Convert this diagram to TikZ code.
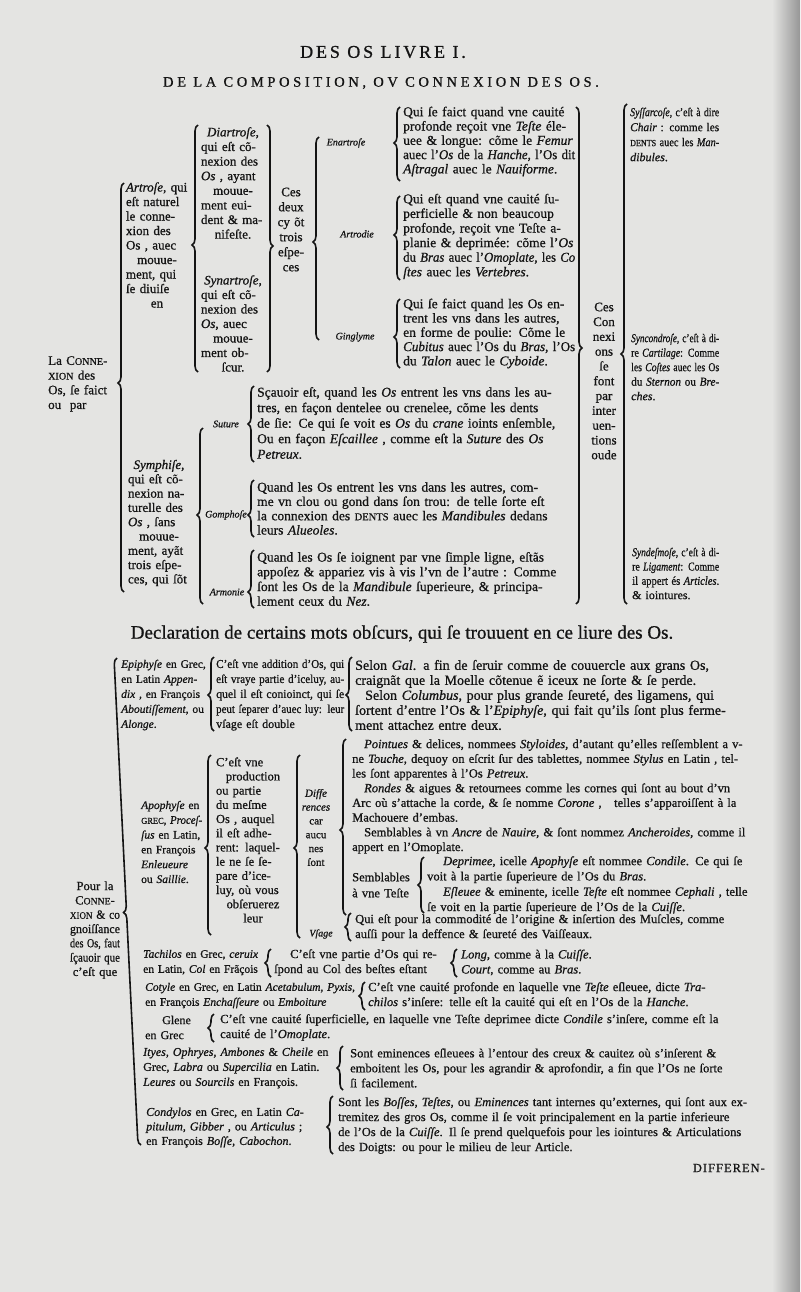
\documentclass[tikz,border=0pt]{standalone}
\usepackage{fontspec}
\setmainfont{Liberation Serif}[FakeBold=0.8, ItalicFeatures={FakeBold=0.8}]
\usepackage{graphicx}
\usetikzlibrary{decorations.pathreplacing,positioning}
\definecolor{Paper}{RGB}{228,228,226}
\definecolor{Ink}{RGB}{20,20,20}
\definecolor{Shadow}{RGB}{150,150,150}

% one line of a block: stretched to the width, or squeezed if too long
\newsavebox{\lnbox}
\newcommand{\jl}[1]{\sbox{\lnbox}{#1}\ifdim\wd\lnbox>\linewidth\resizebox{\linewidth}{\height}{\usebox{\lnbox}}\else\makebox[\linewidth][s]{#1}\fi}
\newcommand{\fl}[1]{\sbox{\lnbox}{#1}\ifdim\wd\lnbox>\linewidth\resizebox{\linewidth}{\height}{\usebox{\lnbox}}\else\usebox{\lnbox}\fi}
\newcommand{\minicap}[1]{\scalebox{0.78}{#1}}

% braces: x of the stem, top, bottom, cusp
\newcommand{\obr}[4]{%
  \pgfmathsetmacro{\brasp}{(#3-#4)/(#3-#2)}
  \draw[brc, decoration={brace, amplitude=6pt, aspect=\brasp}] ({#1+3},#3) -- ({#1+3},#2);}
\newcommand{\cbr}[4]{%
  \pgfmathsetmacro{\brasp}{(#4-#2)/(#3-#2)}
  \draw[brc, decoration={brace, amplitude=6pt, aspect=\brasp}] ({#1-3},#2) -- ({#1-3},#3);}

\begin{document}
\begin{tikzpicture}[x=1pt, y=-1pt,
 blk/.style={inner sep=0pt, anchor=west, align=left, text width=#1, text=Ink},
 cblk/.style={inner sep=0pt, anchor=center, align=center, text width=#1, text=Ink},
 fs/.style 2 args={font=\fontsize{#1}{#2}\selectfont},
 lbl/.style={inner sep=0pt, text=Ink, font=\fontsize{10}{12}\selectfont\itshape},
 brc/.style={decorate, draw=Ink, line width=1.6pt}
]
\useasboundingbox (0,0) rectangle (800,1292);
\fill[Paper] (0,0) rectangle (800,1292);
\shade[left color=Paper, right color=Shadow] (772,0) rectangle (800,1292);

% titles
\node[inner sep=0pt, text=Ink, font=\fontsize{18}{20}\selectfont\addfontfeature{LetterSpace=16}] (livre) at (383,52) {DES OS LIVRE I.};
\node[inner sep=0pt, text=Ink, font=\fontsize{14.5}{16}\selectfont\addfontfeature{LetterSpace=25}] (compo) at (381,83) {DE LA COMPOSITION, OV CONNEXION DES OS.};

% ---- first table
\node[blk=64, fs={13}{14.7}] (connex) at (48,384) {\jl{La C\minicap{ONNE}-}\\ \jl{\minicap{XION} des}\\ \jl{Os, ſe faict}\\ \fl{ou\ \ par}};
\obr{121}{183}{592}{383}

\node[cblk=62, fs={13}{14.5}] (artrose) at (157,245) {\jl{\textit{Artroſe}, qui}\\ \jl{eſt naturel}\\ \jl{le conne-}\\ \jl{xion des}\\ \jl{Os , auec}\\ \fl{mouue-}\\ \jl{ment, qui}\\ \jl{ſe diuiſe}\\ \fl{en}};
\obr{195}{125}{372}{245}

\node[cblk=64, fs={13}{14.6}] (diartrose) at (233,183) {\fl{\textit{Diartroſe},}\\ \jl{qui eſt cõ-}\\ \jl{nexion des}\\ \jl{\textit{Os} , ayant}\\ \fl{mouue-}\\ \jl{ment eui-}\\ \jl{dent \& ma-}\\ \fl{nifeſte.}};
\node[cblk=64, fs={13}{14.5}] (synartrose) at (233,323.5) {\fl{\textit{Synartroſe},}\\ \jl{qui eſt cõ-}\\ \jl{nexion des}\\ \jl{\textit{Os}, auec}\\ \fl{mouue-}\\ \jl{ment ob-}\\ \fl{ſcur.}};
\cbr{270}{125}{372}{246}

\node[cblk=32, fs={13}{15}] (cesdeux) at (291,229.5) {Ces\\ deux\\ cy õt\\ trois\\ eſpe-\\ ces};
\obr{316}{137}{340}{242}

\node[lbl] (enartrose) at (346,143) {Enartroſe};
\node[lbl] (artrodie) at (357,234) {Artrodie};
\node[lbl] (ginglyme) at (355,337) {Ginglyme};

\obr{397}{107}{181}{143}
\node[blk=172, fs={13.5}{14.3}] (enartrosetxt) at (403,141.5) {\jl{Qui ſe faict quand vne cauité}\\ \jl{profonde reçoit vne \textit{Teſte} éle-}\\ \jl{uee \& longue: cõme le \textit{Femur}}\\ \jl{auec l'\textit{Os} de la \textit{Hanche}, l'Os dit}\\ \fl{\textit{Aſtragal} auec le \textit{Nauiforme}.}};
\obr{397}{196}{280}{235}
\node[blk=172, fs={13.5}{14.6}] (artrodietxt) at (403,236.5) {\jl{Qui eſt quand vne cauité ſu-}\\ \jl{perficielle \& non beaucoup}\\ \jl{profonde, reçoit vne Teſte a-}\\ \jl{planie \& deprimée: cõme l'\textit{Os}}\\ \jl{du \textit{Bras} auec l'\textit{Omoplate}, les \textit{Co}}\\ \fl{\textit{ſtes} auec les \textit{Vertebres}.}};
\obr{397}{299}{368}{337}
\node[blk=172, fs={13.5}{14.3}] (ginglymetxt) at (403,333.5) {\jl{Qui ſe faict quand les Os en-}\\ \jl{trent les vns dans les autres,}\\ \jl{en forme de poulie: Cõme le}\\ \jl{\textit{Cubitus} auec l'Os du \textit{Bras}, l'Os}\\ \fl{du \textit{Talon} auec le \textit{Cyboide}.}};

\node[cblk=62, fs={13}{14.3}] (symphise) at (159,523) {\fl{\textit{Symphiſe},}\\ \jl{qui eſt cõ-}\\ \jl{nexion na-}\\ \jl{turelle des}\\ \jl{\textit{Os} , ſans}\\ \fl{mouue-}\\ \jl{ment, ayãt}\\ \jl{trois eſpe-}\\ \jl{ces, qui ſõt}};
\obr{200}{428}{604}{515}

\node[lbl] (suture) at (226,424) {Suture};
\node[lbl] (gomphose) at (226,515) {Gomphoſe};
\node[lbl] (armonie) at (227,592) {Armonie};

\obr{251}{386}{462}{424}
\node[blk=318, fs={13.5}{15.5}] (suturetxt) at (257,423) {\jl{Sçauoir eſt, quand les \textit{Os} entrent les vns dans les au-}\\ \jl{tres, en façon dentelee ou crenelee, cõme les dents}\\ \jl{de ſie: Ce qui ſe voit es \textit{Os} du \textit{crane} ioints enſemble,}\\ \jl{Ou en façon \textit{Eſcaillee} , comme eſt la \textit{Suture} des \textit{Os}}\\ \fl{\textit{Petreux}.}};
\obr{251}{480}{537}{515}
\node[blk=318, fs={13.5}{14.3}] (gomphosetxt) at (257,508.5) {\jl{Quand les Os entrent les vns dans les autres, com-}\\ \jl{me vn clou ou gond dans ſon trou: de telle ſorte eſt}\\ \jl{la connexion des \minicap{DENTS} auec les \textit{Mandibules} dedans}\\ \fl{leurs \textit{Alueoles}.}};
\obr{251}{550}{608}{592}
\node[blk=318, fs={13.5}{14.7}] (armonietxt) at (257,579) {\jl{Quand les Os ſe ioignent par vne ſimple ligne, eſtãs}\\ \jl{appoſez \& appariez vis à vis l'vn de l'autre : Comme}\\ \jl{ſont les Os de la \textit{Mandibule} ſuperieure, \& principa-}\\ \fl{lement ceux du \textit{Nez}.}};

\cbr{579}{107}{604}{348}
\node[cblk=32, fs={13}{14.8}] (cescon) at (604,381) {Ces\\ Con\\ nexi\\ ons\\ ſe\\ font\\ par\\ inter\\ uen-\\ tions\\ oude};
\obr{624}{104}{604}{354}

\node[blk=89, fs={12}{15}] (syssarcose) at (630,134.5) {\jl{\textit{Syſſarcoſe}, c'eſt à dire}\\ \jl{\textit{Chair} : comme les}\\ \jl{\minicap{DENTS} auec les \textit{Man-}}\\ \fl{\textit{dibules}.}};
\node[blk=88, fs={12}{14.5}] (syncondrose) at (631,367) {\jl{\textit{Syncondroſe}, c'eſt à di-}\\ \jl{re \textit{Cartilage}: Comme}\\ \jl{les \textit{Coſtes} auec les Os}\\ \jl{du \textit{Sternon} ou \textit{Bre-}}\\ \fl{\textit{ches}.}};
\node[blk=87, fs={12}{14.3}] (syndesmose) at (632,573.5) {\jl{\textit{Syndeſmoſe}, c'eſt à di-}\\ \jl{re \textit{Ligament}: Comme}\\ \jl{il appert és \textit{Articles}.}\\ \fl{\& iointures.}};

% ---- declaration
\node[inner sep=0pt, text=Ink, font=\fontsize{19}{21}\selectfont] (declar) at (402,634) {Declaration de certains mots obſcurs, qui ſe trouuent en ce liure des Os.};

\node[cblk=50, fs={12.5}{14.3}] (pourla) at (95,930) {\fl{Pour la}\\ \fl{C\minicap{ONNE}-}\\ \fl{\minicap{XION} \& co}\\ \fl{gnoiſſance}\\ \fl{des Os, faut}\\ \fl{ſçauoir que}\\ \fl{c'eſt que}};
\draw[brc, decoration={brace, amplitude=6pt, aspect=0.478}] (141,1145) -- (117,658);

\node[blk=86, fs={11.5}{15}] (epiphyse) at (121,695) {\jl{\textit{Epiphyſe} en Grec,}\\ \jl{en Latin \textit{Appen-}}\\ \jl{\textit{dix} , en François}\\ \jl{\textit{Aboutiſſement}, ou}\\ \fl{\textit{Alonge}.}};
\obr{211}{657}{731}{695}
\node[blk=128, fs={12}{15}] (addition) at (216,695) {\jl{C'eſt vne addition d'Os, qui}\\ \jl{eſt vraye partie d'iceluy, au-}\\ \jl{quel il eſt conioinct, qui ſe}\\ \jl{peut ſeparer d'auec luy: leur}\\ \fl{vſage eſt double}};
\obr{349}{657}{731}{695}
\node[blk=405, fs={14}{15}] (selon) at (355,695) {\jl{Selon \textit{Gal}. a fin de ſeruir comme de couuercle aux grans Os,}\\ \jl{craignãt que la Moelle cõtenue ẽ iceux ne ſorte \& ſe perde.}\\ \jl{\hspace*{10pt}Selon \textit{Columbus}, pour plus grande ſeureté, des ligamens, qui}\\ \jl{ſortent d'entre l'Os \& l'\textit{Epiphyſe}, qui fait qu'ils ſont plus ferme-}\\ \fl{ment attachez entre deux.}};

\node[blk=61, fs={11.5}{14.8}] (apophyse) at (141,842) {\jl{\textit{Apophyſe} en}\\ \jl{\minicap{GREC}, \textit{Proceſ-}}\\ \jl{\textit{ſus} en Latin,}\\ \jl{en François}\\ \fl{\textit{Enleueure}}\\ \fl{ou \textit{Saillie}.}};
\obr{208}{755}{935}{848}
\node[cblk=74, fs={12.5}{14.2}] (production) at (253,840) {\jl{C'eſt vne}\\ \fl{production}\\ \jl{ou partie}\\ \jl{du meſme}\\ \jl{Os , auquel}\\ \jl{il eſt adhe-}\\ \jl{rent: laquel-}\\ \jl{le ne ſe ſe-}\\ \jl{pare d'ice-}\\ \jl{luy, où vous}\\ \fl{obſeruerez}\\ \fl{leur}};
\obr{297}{755}{938}{848}
\node[cblk=32, fs={11}{13.8}] (differences) at (316,827.5) {\textit{Diffe}\\ \textit{rences}\\ car\\ aucu\\ nes\\ ſont};
\obr{343}{739}{915}{830}
\node[blk=410, fs={12.5}{14.7}] (pointues) at (352,796.5) {\jl{\hspace*{12pt}\textit{Pointues} \& delices, nommees \textit{Styloides}, d'autant qu'elles reſſemblent a v-}\\ \jl{ne \textit{Touche}, dequoy on eſcrit ſur des tablettes, nommee \textit{Stylus} en Latin , tel-}\\ \fl{les ſont apparentes à l'Os \textit{Petreux}.}\\ \jl{\hspace*{12pt}\textit{Rondes} \& aigues \& retournees comme les cornes qui ſont au bout d'vn}\\ \jl{Arc où s'attache la corde, \& ſe nomme \textit{Corone} ,\quad telles s'apparoiſſent à la}\\ \fl{Machouere d'embas.}\\ \jl{\hspace*{12pt}Semblables à vn \textit{Ancre} de \textit{Nauire}, \& ſont nommez \textit{Ancheroides}, comme il}\\ \fl{appert en l'Omoplate.}};
\node[blk=64, fs={12.5}{16}] (semblables) at (352,885) {Semblables\\ à vne Teſte};
\obr{421}{857}{913}{885}
\node[blk=335, fs={12.5}{15.3}] (deprimee) at (427,885) {\jl{\hspace*{16pt}\textit{Deprimee}, icelle \textit{Apophyſe} eſt nommee \textit{Condile}. Ce qui ſe}\\ \fl{voit à la partie ſuperieure de l'Os du \textit{Bras}.}\\ \jl{\hspace*{16pt}\textit{Eſleuee} \& eminente, icelle \textit{Teſte} eſt nommee \textit{Cephali} , telle}\\ \fl{ſe voit en la partie ſuperieure de l'Os de la \textit{Cuiſſe}.}};
\node[lbl] (vsage) at (321,934) {Vſage};
\obr{348}{913}{941}{927}
\node[blk=408, fs={12.5}{15}] (vsagetxt) at (355,927.5) {\jl{Qui eſt pour la commodité de l'origine \& inſertion des Muſcles, comme}\\ \fl{auſſi pour la deffence \& ſeureté des Vaiſſeaux.}};

\node[blk=120, fs={11.5}{15}] (tachilos) at (143,962.5) {\jl{\textit{Tachilos} en Grec, \textit{ceruix}}\\ \jl{en Latin, \textit{Col} en Frãçois}};
\obr{268}{949}{977}{963}
\node[blk=176, fs={12.5}{15}] (respond) at (274,962.5) {\jl{\hspace*{16pt}C'eſt vne partie d'Os qui re-}\\ \jl{ſpond au Col des beſtes eſtant}};
\obr{454}{949}{977}{963}
\node[blk=140, fs={12.5}{15}] (long) at (461,962.5) {\textit{Long}, comme à la \textit{Cuiſſe}.\\ \textit{Court}, comme au \textit{Bras}.};

\node[blk=212, fs={11.5}{15}] (cotyle) at (145,995.5) {\jl{\textit{Cotyle} en Grec, en Latin \textit{Acetabulum}, \textit{Pyxis},}\\ \fl{en François \textit{Enchaſſeure} ou \textit{Emboiture}}};
\obr{362}{982}{1010}{996}
\node[blk=394, fs={12.5}{15}] (cotyletxt) at (368,995.5) {\jl{C'eſt vne cauité profonde en laquelle vne \textit{Teſte} eſleuee, dicte \textit{Tra-}}\\ \fl{\textit{chilos} s'inſere: telle eſt la cauité qui eſt en l'Os de la \textit{Hanche}.}};

\node[blk=60, fs={12}{15}] (glene) at (145,1027.5) {\hspace*{17pt}Glene\\ en Grec};
\obr{211}{1014}{1042}{1028}
\node[blk=545, fs={12.5}{15}] (glenetxt) at (220,1027.5) {\jl{C'eſt vne cauité ſuperficielle, en laquelle vne Teſte deprimee dicte \textit{Condile} s'inſere, comme eſt la}\\ \fl{cauité de l'\textit{Omoplate}.}};

\node[blk=193, fs={12}{15}] (ityes) at (143,1068) {\jl{\textit{Ityes}, \textit{Ophryes}, \textit{Ambones} \& \textit{Cheile} en}\\ \jl{Grec, \textit{Labra} ou \textit{Supercilia} en Latin.}\\ \fl{\textit{Leures} ou \textit{Sourcils} en François.}};
\obr{340}{1046}{1090}{1068}
\node[blk=417, fs={12.5}{15}] (eminences) at (350,1068) {\jl{Sont eminences eſleuees à l'entour des creux \& cauitez où s'inſerent \&}\\ \jl{emboitent les Os, pour les agrandir \& aprofondir, a fin que l'Os ne ſorte}\\ \fl{ſi facilement.}};

\node[blk=175, fs={12}{14.5}] (condylos) at (146,1127.5) {\jl{\textit{Condylos} en Grec, en Latin \textit{Ca-}}\\ \jl{\textit{pitulum}, \textit{Gibber} , ou \textit{Articulus} ;}\\ \fl{en François \textit{Boſſe}, \textit{Cabochon}.}};
\obr{330}{1096}{1154}{1127}
\node[blk=428, fs={12.5}{15}] (bosses) at (338,1125.5) {\jl{Sont les \textit{Boſſes}, \textit{Teſtes}, ou \textit{Eminences} tant internes qu'externes, qui ſont aux ex-}\\ \jl{tremitez des gros Os, comme il ſe voit principalement en la partie inferieure}\\ \jl{de l'Os de la \textit{Cuiſſe}. Il ſe prend quelquefois pour les iointures \& Articulations}\\ \fl{des Doigts: ou pour le milieu de leur Article.}};

\node[inner sep=0pt, anchor=east, text=Ink, font=\fontsize{12.5}{14}\selectfont\addfontfeature{LetterSpace=8}] (differen) at (765,1168) {DIFFEREN-};
\end{tikzpicture}
\end{document}
